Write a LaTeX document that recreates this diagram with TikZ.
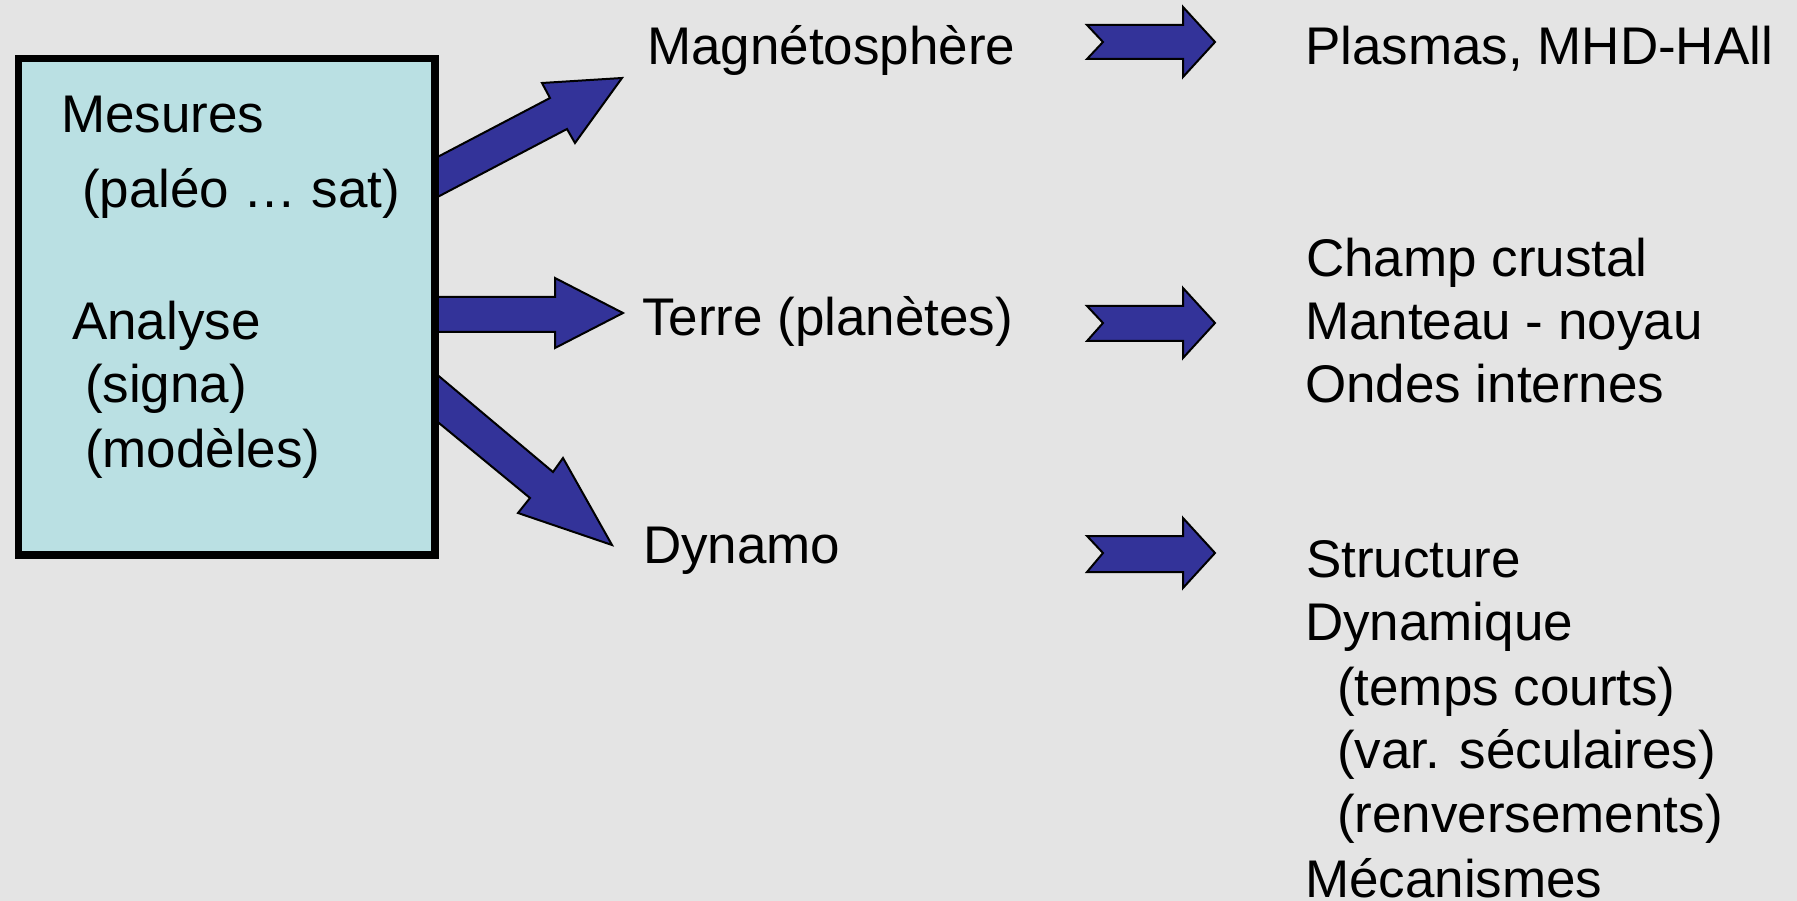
\documentclass[tikz,border=0pt]{standalone}
\usepackage{fontspec}
\setmainfont{Liberation Sans}
\definecolor{bgcol}{HTML}{E4E4E4}
\definecolor{boxcol}{HTML}{BAE0E3}
\definecolor{arrowblue}{HTML}{333399}
\begin{document}
\begin{tikzpicture}[x=1pt,y=-1pt,
  txt/.style={inner sep=0pt, outer sep=0pt, anchor=base west, font=\fontsize{53}{64}\selectfont},
  blockarrow/.style={fill=arrowblue, draw=black, line width=2pt, line join=miter},
  srcbox/.style={fill=boxcol, draw=black, line width=7.5pt}]
\fill[bgcol] (0,0) rectangle (1797,901);
\useasboundingbox (0,0) rectangle (1797,901);

% block arrows from the box
\draw[blockarrow] (428,162) -- (550,98) -- (542,83) -- (622,78) -- (575,143) -- (567,129) -- (428,202) -- cycle;
\draw[blockarrow] (428,297) -- (555,297) -- (555,278) -- (623,313) -- (555,348) -- (555,332) -- (428,332) -- cycle;
\draw[blockarrow] (428,367) -- (553,472) -- (563,458) -- (612,545) -- (518,513) -- (530,498) -- (428,414) -- cycle;

% source box
\node[srcbox, minimum width=416.5pt, minimum height=496.5pt, anchor=north west, inner sep=0pt] (box) at (14.75,54.75) {};

% notched arrows
\draw[blockarrow] (1087,25) -- (1183,25) -- (1183,7) -- (1215,42) -- (1183,77) -- (1183,59) -- (1087,59) -- (1103,42) -- cycle;
\draw[blockarrow] (1087,306) -- (1183,306) -- (1183,288) -- (1215,323) -- (1183,358) -- (1183,341) -- (1087,341) -- (1103,323) -- cycle;
\draw[blockarrow] (1087,536) -- (1183,536) -- (1183,518) -- (1215,553) -- (1183,588) -- (1183,572) -- (1087,572) -- (1103,553) -- cycle;

% box text
\node[txt] (mes) at (61,133) {Mesures};
\node[txt] (pal) at (82,208) {(paléo … sat)};
\node[txt] (ana) at (72,340) {Analyse};
\node[txt] (sig) at (85,402) {(signa)};
\node[txt] (mod) at (85,467) {(modèles)};

% middle column
\node[txt] (mag) at (647,65) {Magnétosphère};
\node[txt] (ter) at (642,336) {Terre (planètes)};
\node[txt] (dyn) at (643,563) {Dynamo};

% right column
\node[txt] (pla) at (1305,65) {Plasmas, MHD-HAll};
\node[txt] (cha) at (1306,277) {Champ crustal};
\node[txt] (man) at (1305,340) {Manteau - noyau};
\node[txt] (ond) at (1305,402) {Ondes internes};
\node[txt] (str) at (1306,577) {Structure};
\node[txt] (dyq) at (1305,640) {Dynamique};
\node[txt] (tem) at (1337,705) {(temps courts)};
\node[txt] (var) at (1337,768) {(var. séculaires)};
\node[txt] (ren) at (1337,832) {(renversements)};
\node[txt] (mec) at (1305,897) {Mécanismes};
\end{tikzpicture}
\end{document}
